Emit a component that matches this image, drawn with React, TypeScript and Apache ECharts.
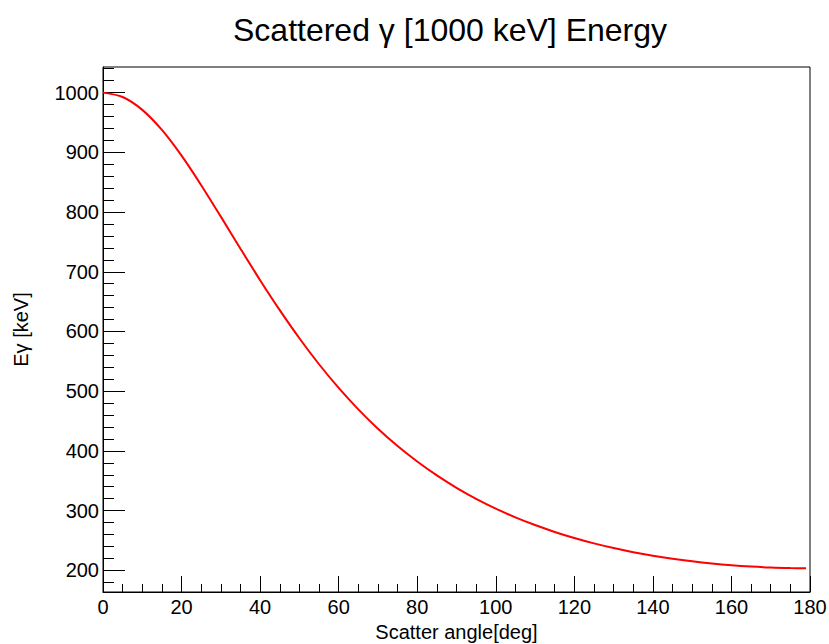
import React, { useEffect, useRef } from "react";
import * as echarts from "echarts";

const angles = [0, 5, 10, 15, 20, 25, 30, 35, 40, 45, 50, 55, 60, 65, 70, 75, 80, 85, 90, 95, 100, 105, 110, 115, 120, 125, 130, 135, 140, 145, 150, 155, 160, 165, 170, 175, 179];
const energies = [1000, 992.6, 971.1, 937.5, 894.4, 845.0, 792.3, 738.6, 685.9, 635.7, 588.6, 545.1, 505.4, 469.5, 437.1, 408.1, 382.2, 358.9, 338.2, 319.7, 303.3, 288.7, 275.8, 264.3, 254.1, 245.1, 237.3, 230.4, 224.4, 219.3, 215.0, 211.4, 208.5, 206.3, 204.7, 203.8, 203.5];
const yMajorTicks = [200, 300, 400, 500, 600, 700, 800, 900, 1000];
const yMinorTicks = [180, 220, 240, 260, 280, 320, 340, 360, 380, 420, 440, 460, 480, 520, 540, 560, 580, 620, 640, 660, 680, 720, 740, 760, 780, 820, 840, 860, 880, 920, 940, 960, 980, 1020, 1040];

const TITLE = "Scattered γ [1000 keV] Energy";
const X_TITLE = "Scatter angle[deg]";
const Y_TITLE = "Eγ [keV]";

const FONT = "Liberation Sans";

export default function App() {
  const ref = useRef<HTMLDivElement>(null);
  useEffect(() => {
    if (!ref.current) return;
    const chart = echarts.init(ref.current, null, { renderer: "svg" });
    const yMin = 163.7;
    const yMax = 1042.9;
    chart.setOption({
      animation: false,
      backgroundColor: "#fff",
      grid: {
        left: 103,
        right: 19,
        top: 67,
        bottom: 52,
        show: true,
        borderColor: "#000",
        borderWidth: 1,
        backgroundColor: "transparent",
        outerBoundsMode: "none",
        containLabel: false,
      },
      title: {
        text: TITLE,
        left: 445,
        top: 9,
        textAlign: "center",
        textStyle: { fontFamily: FONT, fontSize: 32, fontWeight: "normal", color: "#000" },
      },
      xAxis: {
        type: "value",
        min: 0,
        max: 180,
        interval: 20,
        name: X_TITLE,
        nameLocation: "middle",
        nameGap: 27,
        nameTextStyle: { fontFamily: FONT, fontSize: 20, color: "#000" },
        axisLine: { show: true, lineStyle: { color: "#000", width: 1 } },
        axisTick: { show: true, inside: true, length: 16, lineStyle: { color: "#000", width: 1 } },
        minorTick: { show: true, splitNumber: 4, length: 8, lineStyle: { color: "#000", width: 1 } },
        axisLabel: { fontFamily: FONT, fontSize: 20, color: "#000", margin: 5, formatter: (v: number) => String(v) },
        splitLine: { show: false },
      },
      yAxis: [
        {
          type: "value",
          min: yMin,
          max: yMax,
          name: Y_TITLE,
          nameLocation: "middle",
          nameGap: 72,
          nameRotate: 90,
          nameTextStyle: { fontFamily: FONT, fontSize: 20, color: "#000" },
          axisLine: { show: true, lineStyle: { color: "#000", width: 1 } },
          axisTick: {
            show: true,
            inside: true,
            length: 22,
            customValues: yMajorTicks,
            lineStyle: { color: "#000", width: 1 },
          },
          axisLabel: {
            fontFamily: FONT,
            fontSize: 20,
            color: "#000",
            margin: 4,
            customValues: yMajorTicks,
            formatter: (v: number) => String(v),
          },
          splitLine: { show: false },
        },
        {
          type: "value",
          min: yMin,
          max: yMax,
          position: "left",
          offset: 0,
          axisLine: { show: false },
          axisTick: {
            show: true,
            inside: true,
            length: 11,
            customValues: yMinorTicks,
            lineStyle: { color: "#000", width: 1 },
          },
          axisLabel: { show: false },
          splitLine: { show: false },
        },
      ],
      series: [
        {
          type: "line",
          data: angles.map((a, i) => [a, energies[i]]),
          showSymbol: false,
          smooth: 0.3,
          lineStyle: { color: "#ff0000", width: 2 },
          yAxisIndex: 0,
        },
      ],
    });
    return () => chart.dispose();
  }, []);
  return (
    <div
      ref={ref}
      style={{ position: "fixed", left: 0, top: 0, width: 829, height: 644, background: "#fff" }}
    />
  );
}
